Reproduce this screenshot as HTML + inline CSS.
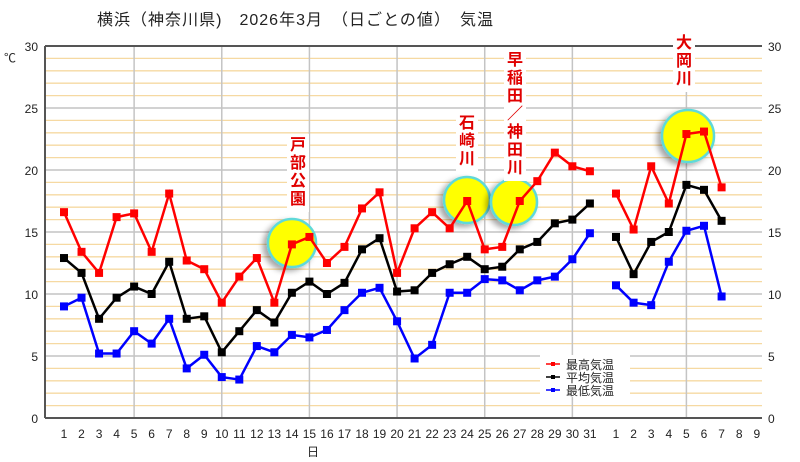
<!DOCTYPE html><html><head><meta charset="utf-8"><style>
body{margin:0;background:#fff;width:800px;height:457px;overflow:hidden}
svg text{font-family:"Liberation Sans","Noto Sans CJK JP",sans-serif}
</style></head><body>
<svg width="800" height="457" xmlns="http://www.w3.org/2000/svg">
<defs><filter id="sh" x="-50%" y="-50%" width="200%" height="200%"><feDropShadow dx="-4" dy="3" stdDeviation="3" flood-color="#000" flood-opacity="0.35"/></filter></defs>
<text x="97" y="25" font-size="16" fill="#222" textLength="396" lengthAdjust="spacing">横浜（神奈川県)　2026年3月　（日ごとの値）　気温</text>
<g id="grid"></g>
<g id="series"></g>
<g id="labels"></g>
</svg>
<script>
const ns="http://www.w3.org/2000/svg";
function el(p,t,a,txt){const e=document.createElementNS(ns,t);for(const k in a)e.setAttribute(k,a[k]);if(txt!==undefined)e.textContent=txt;document.querySelector(p).appendChild(e);return e;}
const L=45,R=762,T=46,B=418,Y=v=>B-v*12.4;
for(let v=1;v<30;v++){if(v%5)el("#grid","line",{x1:L,x2:R,y1:Y(v),y2:Y(v),stroke:"#f6d9a2","stroke-width":1.3});}
for(let v=5;v<30;v+=5)el("#grid","line",{x1:L,x2:R,y1:Y(v),y2:Y(v),stroke:"#c4c4c4","stroke-width":1.5});
const X=[];for(let i=0;i<31;i++)X.push(64+i*17.53);for(let i=0;i<9;i++)X.push(616+i*17.6);
[4,9,14,19,24,29,35].forEach(i=>el("#grid","line",{x1:X[i],x2:X[i],y1:T,y2:B,stroke:"#c4c4c4","stroke-width":1.5}));
el("#grid","line",{x1:L,x2:R,y1:T,y2:T,stroke:"#555","stroke-width":2});
el("#grid","line",{x1:L,x2:R,y1:B,y2:B,stroke:"#555","stroke-width":2});
el("#grid","line",{x1:L,x2:L,y1:T,y2:B,stroke:"#555","stroke-width":2});
for(let v=0;v<=30;v+=5){el("#grid","text",{x:38,y:Y(v)+5,"font-size":12,"text-anchor":"end",fill:"#222"},v);el("#grid","text",{x:768,y:Y(v)+5,"font-size":12,fill:"#222"},v);}
el("#grid","text",{x:4,y:62,"font-size":12,fill:"#222"},"℃");
for(let i=0;i<40;i++)el("#grid","text",{x:X[i],y:438,"font-size":12,"text-anchor":"middle",fill:"#222"},i<31?i+1:i-30);
el("#grid","text",{x:313,y:456,"font-size":12,"text-anchor":"middle",fill:"#222"},"日");
[[292,243,24],[467,200,23],[514,202,23],[688,136,26]].forEach(c=>el("#series","circle",{cx:c[0],cy:c[1],r:c[2],fill:"#ffff00",stroke:"#5fd9d9","stroke-width":2.5,filter:"url(#sh)"}));
const mx=[16.6,13.4,11.7,16.2,16.5,13.4,18.1,12.7,12.0,9.3,11.4,12.9,9.3,14.0,14.6,12.5,13.8,16.9,18.2,11.7,15.3,16.6,15.3,17.5,13.6,13.8,17.5,19.1,21.4,20.3,19.9,18.1,15.2,20.3,17.3,22.9,23.1,18.6];
const av=[12.9,11.7,8.0,9.7,10.6,10.0,12.6,8.0,8.2,5.3,7.0,8.7,7.7,10.1,11.0,10.0,10.9,13.6,14.5,10.2,10.3,11.7,12.4,13.0,12.0,12.2,13.6,14.2,15.7,16.0,17.3,14.6,11.6,14.2,15.0,18.8,18.4,15.9];
const mn=[9.0,9.7,5.2,5.2,7.0,6.0,8.0,4.0,5.1,3.3,3.1,5.8,5.3,6.7,6.5,7.1,8.7,10.1,10.5,7.8,4.8,5.9,10.1,10.1,11.2,11.1,10.3,11.1,11.4,12.8,14.9,10.7,9.3,9.1,12.6,15.1,15.5,9.8];
function ser(d,c){[[0,31],[31,38]].forEach(([a,b])=>{let p="";for(let i=a;i<b;i++)p+=(i==a?"M":"L")+X[i]+","+Y(d[i]);el("#series","path",{d:p,fill:"none",stroke:c,"stroke-width":2.5});});
for(let i=0;i<d.length;i++)el("#series","rect",{x:X[i]-4,y:Y(d[i])-4,width:8,height:8,fill:c});}
ser(mn,"#0000ff");ser(av,"#000");ser(mx,"#ff0000");
el("#labels","rect",{x:540,y:355,width:90,height:42,fill:"#fff"});
[["最高気温","#f00"],["平均気温","#000"],["最低気温","#00f"]].forEach((l,i)=>{const y=364+i*13;el("#labels","line",{x1:546,x2:560,y1:y,y2:y,stroke:l[1],"stroke-width":1.5});el("#labels","rect",{x:551,y:y-2,width:4,height:4,fill:l[1]});el("#labels","text",{x:566,y:y+5,"font-size":12,fill:"#222"},l[0]);});
function vt(x,y0,chars){el("#labels","rect",{x:x-11,y:y0-16,width:22,height:chars.length*18+6,fill:"#fff"});chars.forEach((c,i)=>el("#labels","text",{x:x,y:y0+i*18,"font-size":16,"font-weight":"bold","text-anchor":"middle",fill:"#e00000"},c));}
vt(298,150,["戸","部","公","園"]);
vt(467,128,["石","崎","川"]);
vt(515,65,["早","稲","田","／","神","田","川"]);
vt(684,48,["大","岡","川"]);
</script>
</body></html>
